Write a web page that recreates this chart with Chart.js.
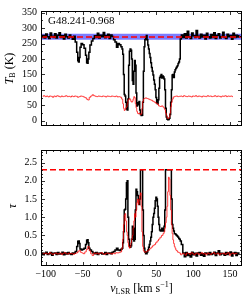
<!DOCTYPE html>
<html>
<head>
<meta charset="utf-8">
<script src="https://cdn.jsdelivr.net/npm/chart.js@4.4.0/dist/chart.umd.min.js"></script>
<style>
  html, body { margin: 0; padding: 0; background: #fff; }
  #wrap { position: relative; width: 250px; height: 303px; }
  canvas { position: absolute; left: 0; }
  #topChart { top: 0; }
  #bottomChart { top: 140px; }
</style>
</head>
<body>
<div id="wrap">
  <canvas id="topChart" width="250" height="140"></canvas>
  <canvas id="bottomChart" width="250" height="163"></canvas>
</div>
<script>
// source + axis ranges
const sourceName = 'G48.241-0.968';
const vRange = [-106.4, 166.3];
const vTicks = [-100, -50, 0, 50, 100, 150];
const tbRange = [-17.2, 355.5];
const tbTicks = [0, 50, 100, 150, 200, 250, 300, 350];
const tauRange = [-0.337, 2.845];
const tauTicks = [0, 0.5, 1, 1.5, 2, 2.5];

// continuum level, its uncertainty band and the tau saturation limit
const contLevel = 271;
const contBand = [262, 282];
const tauLimit = 2.3;

// black: on-source brightness temperature (K) and optical depth
const velBlack = [-105,-103,-101,-99,-97,-95,-93,-91,-89,-87,-85,-83,-81,-79,-77,-75,-73,-71,-69,-67,-65,-63,-61,
  -59,-57,-56,-55,-54,-53,-51,-49,-47,-45,-44,-43,-42,-41,-39,-37,-35,-33,
  -31,-29,-27,-25,-23,-21,-19,-17,-15,-13,-11,-9,
  -7,-5,-3,-1,1,3,
  4,5,6,7,8,9,10,11,12,13,14,15,16,17,18,19,20,21,22,23,24,25,26,27,28,29,30,31,32,33,34,35,36,37,38,39,40,41,42,43,
  44,45,46,47,48,49,50,51,52,53,54,55,56,57,58,59,60,61,62,63,64,65,66,67,68,69,70,71,72,73,74,75,76,77,78,79,80,81,82,
  83,85,87,89,91,93,95,97,99,101,103,105,107,109,111,113,115,117,119,121,123,125,127,129,131,133,135,137,139,141,143,145,147,149,151,153,155,157,159,161,163];
const tbBlack = [270,276,268,281,272,266,284,274,270,282,268,277,285,270,275,265,280,272,268,278,271,264,274,
  255,222,194,190,205,238,250,246,235,212,188,186,200,222,245,258,266,275,
  270,283,268,277,272,286,269,275,280,266,278,273,
  262,255,238,250,246,240,
  232,215,150,85,80,60,38,35,70,180,225,232,228,200,130,118,160,195,180,90,48,52,58,62,35,20,17,18,60,160,240,262,272,276,262,245,232,218,205,188,
  172,160,148,132,118,100,75,58,55,68,105,140,145,150,138,145,142,135,100,40,12,5,3,4,8,20,60,100,148,150,140,158,165,170,174,178,185,190,200,
  265,278,270,282,268,290,272,266,284,275,270,292,274,268,280,271,277,265,283,272,268,279,270,285,266,276,282,268,273,287,270,266,280,272,276,264,283,270,277,271,275];
const tauBlack = [0.02,-0.03,0.01,0.04,-0.02,0.0,0.03,-0.04,0.01,0.02,-0.02,0.03,-0.01,0.0,0.04,-0.03,0.02,-0.01,0.03,0.0,-0.02,0.02,0.01,
  0.06,0.2,0.34,0.35,0.28,0.13,0.1,0.12,0.15,0.25,0.37,0.38,0.3,0.15,0.1,0.06,0.02,0.0,
  0.03,-0.02,0.01,0.02,-0.01,0.0,0.03,-0.02,0.01,0.02,0.0,0.04,
  0.06,0.1,0.15,0.1,0.09,0.12,
  0.15,0.3,0.6,1.2,1.22,1.5,1.95,2.0,1.0,0.4,0.2,0.18,0.22,0.4,0.75,0.7,0.35,0.4,1.2,1.77,1.7,1.6,1.5,1.35,1.5,2.3,2.3,2.3,1.2,0.5,0.15,0.05,0.0,0.0,0.05,0.1,0.18,0.25,0.35,0.45,
  0.6,0.8,1.0,1.1,1.25,1.45,1.55,1.5,1.3,1.0,0.8,0.65,0.62,0.62,0.7,0.65,0.62,0.75,1.2,2.3,2.3,2.3,2.3,2.3,2.3,2.3,2.3,1.5,0.8,0.7,0.62,0.55,0.55,0.52,0.5,0.48,0.45,0.42,0.4,
  0.35,0.25,0.02,-0.08,0.03,-0.05,0.0,-0.09,0.04,-0.03,0.01,-0.06,0.02,0.03,-0.04,0.0,-0.07,0.02,0.01,-0.03,0.03,-0.02,0.0,0.04,-0.05,0.02,0.08,-0.03,0.01,0.0,-0.04,0.03,-0.02,0.02,0.05,-0.06,0.01,0.03,-0.05,0.02,0.01];

// red: comparison spectrum (K) and its optical depth
const velRedTb = [-104,-102,-100,-98,-96,-94,-92,-90,-88,-86,-84,-82,-80,-78,-76,-74,-72,-70,-68,-66,-64,-62,-60,-58,-56,-54,-52,
  -50,-48,-46,-44,-42,-40,-38,-36,-34,-32,-30,-28,-26,-24,-22,-20,-18,-16,-14,-12,-10,-8,-6,-4,-2,0,2,
  4,5,6,7,8,9,10,11,12,13,14,15,16,17,18,19,20,21,22,23,24,25,26,27,28,29,30,31,32,33,34,
  36,38,40,42,44,46,48,50,52,54,56,58,60,
  61,62,63,64,65,66,67,68,69,70,71,72,
  74,76,78,80,82,84,86,88,90,92,94,96,98,100,102,104,106,108,110,112,114,116,118,120,122,124,126,128,130,132,134,136,138,140,142,144,146,148,150,152,154];
const tbRed = [79,81,78,80,77,80,79,76,80,78,81,79,77,80,78,79,81,78,79,77,80,78,80,79,76,78,80,
  79,77,75,70,67,76,80,84,81,79,78,80,79,78,80,79,77,80,79,78,80,79,78,80,77,78,76,
  70,55,40,33,36,42,45,55,66,70,72,68,62,60,63,70,78,75,55,42,30,24,22,25,22,20,22,40,62,70,72,
  74,72,70,68,66,63,60,57,54,48,46,48,44,
  40,35,25,18,10,7,8,12,25,45,60,70,
  77,79,80,78,79,80,78,81,79,78,80,79,77,80,79,81,78,80,79,77,80,79,78,81,79,80,78,79,81,78,80,79,77,80,79,81,78,80,79,80,78];
const velRedTau = [-104,-102,-100,-98,-96,-94,-92,-90,-88,-86,-84,-82,-80,-78,-76,-74,-72,-70,-68,-66,-64,-62,-60,-58,-56,-54,-52,
  -50,-48,-46,-44,-42,-40,-38,-36,-34,-32,-30,-28,-26,-24,-22,-20,-18,-16,-14,-12,-10,-8,-6,-4,-2,0,2,
  4,5,6,7,8,9,10,11,12,13,14,15,16,17,18,19,20,21,22,23,24,25,26,27,28,29,30,31,32,33,34,35,36,
  38,40,42,44,46,48,50,52,54,56,58,60,
  61,62,63,64,65,66,67,68,69,70,71,72,73,74,75,76,77,78,
  80,82,84,86,88,90,92,94,96,98,100,102,104,106,108,110,112,114,116,118,120,122,124,126,128,130,132,134,136,138,140,142,144,146,148,150,152,154,156,158,160];
const tauRed = [0.01,-0.02,0.02,0.0,-0.01,0.03,0.0,-0.02,0.01,0.02,-0.01,0.0,0.02,-0.02,0.01,0.03,0.0,-0.01,0.02,0.0,0.01,-0.02,0.01,0.02,0.05,0.09,0.04,
  0.02,0.0,0.05,0.12,0.2,0.08,0.0,-0.05,0.02,0.0,0.02,-0.01,0.01,0.03,0.0,-0.02,0.01,0.02,0.0,0.01,-0.01,0.02,0.0,0.03,0.02,0.03,0.05,
  0.15,0.4,0.8,1.05,1.1,0.9,0.6,0.5,0.3,0.2,0.15,0.2,0.3,0.4,0.5,0.7,0.9,1.1,1.0,1.2,1.4,1.5,1.35,1.45,1.6,1.67,1.3,0.6,0.2,0.08,0.05,0.04,0.05,
  0.07,0.1,0.14,0.18,0.22,0.25,0.3,0.35,0.4,0.45,0.5,0.55,
  0.6,0.7,0.85,1.0,1.3,1.7,2.1,2.05,1.6,1.2,0.8,0.55,0.38,0.28,0.2,0.15,0.1,0.08,
  0.04,0.02,-0.03,0.01,0.0,-0.04,0.02,0.01,-0.02,0.03,0.0,-0.03,0.01,0.02,-0.02,0.0,0.03,-0.01,0.01,-0.03,0.02,0.0,-0.02,0.01,0.03,-0.01,0.0,0.02,-0.03,0.01,0.0,0.02,-0.02,0.01,0.03,-0.04,0.0,0.02,-0.01,0.01,0.0];

const serif = '"Liberation Serif", "DejaVu Serif", serif';
const tickFont = { family: serif, size: 10 };
const pts = (xs, ys) => xs.map((x, i) => ({ x: x, y: ys[i] }));
const minus = v => String(v).replace('-', '\u2212');

function richText(ctx, parts, cx, cy, rotate) {
  ctx.save();
  ctx.translate(cx, cy);
  if (rotate) ctx.rotate(-Math.PI / 2);
  let w = 0;
  parts.forEach(p => { ctx.font = p.f; p.w = ctx.measureText(p.t).width; w += p.w; });
  let x = -w / 2;
  ctx.textBaseline = 'middle';
  ctx.textAlign = 'left';
  ctx.fillStyle = '#000';
  parts.forEach(p => { ctx.font = p.f; ctx.fillText(p.t, x, p.dy || 0); x += p.w; });
  ctx.restore();
}

// box + inward ticks on all four sides, matplotlib style
function framePlugin(yMinorStep, extra) {
  return {
    id: 'frame',
    afterDraw(chart) {
      const ctx = chart.ctx, a = chart.chartArea;
      const xs = chart.scales.x, ys = chart.scales.y;
      ctx.save();
      ctx.strokeStyle = '#000';
      ctx.lineWidth = 1;
      ctx.strokeRect(Math.round(a.left) + 0.5, Math.round(a.top) + 0.5,
        Math.round(a.right - a.left) - 1, Math.round(a.bottom - a.top) - 1);
      ctx.lineWidth = 0.8;
      ctx.beginPath();
      for (let v = -100; v <= 160; v += 10) {
        const px = Math.round(xs.getPixelForValue(v)) + 0.5;
        const len = vTicks.includes(v) ? 4 : 2;
        ctx.moveTo(px, a.bottom); ctx.lineTo(px, a.bottom - len);
        ctx.moveTo(px, a.top); ctx.lineTo(px, a.top + len);
      }
      const yt = ys.ticks.map(t => t.value);
      const start = Math.ceil(ys.min / yMinorStep) * yMinorStep;
      for (let k = 0; start + k * yMinorStep <= ys.max; k++) {
        const v = +(start + k * yMinorStep).toFixed(6);
        const py = Math.round(ys.getPixelForValue(v)) + 0.5;
        const len = yt.some(t => Math.abs(t - v) < 1e-6) ? 4 : 2;
        ctx.moveTo(a.left, py); ctx.lineTo(a.left + len, py);
        ctx.moveTo(a.right, py); ctx.lineTo(a.right - len, py);
      }
      ctx.stroke();
      ctx.restore();
      extra(chart);
    }
  };
}

function xAxis(showLabels, height) {
  return {
    type: 'linear', min: vRange[0], max: vRange[1],
    grid: { display: false, drawTicks: false }, border: { display: false },
    ticks: { display: showLabels, padding: 2, font: tickFont, color: '#000', maxRotation: 0, autoSkip: false, callback: minus },
    afterBuildTicks: s => { s.ticks = vTicks.map(v => ({ value: v })); },
    afterFit: s => { s.height = height; }
  };
}
function yAxis(range, ticks, fmt) {
  return {
    min: range[0], max: range[1],
    grid: { display: false, drawTicks: false }, border: { display: false },
    ticks: { padding: 4, font: tickFont, color: '#000', autoSkip: false, callback: fmt },
    afterBuildTicks: s => { s.ticks = ticks.map(v => ({ value: v })); },
    afterFit: s => { s.width = 41; }
  };
}

const lineBase = { pointRadius: 0, stepped: 'middle', fill: false };

new Chart(document.getElementById('topChart'), {
  type: 'line',
  data: {
    datasets: [
      { data: pts(vRange, [contBand[1], contBand[1]]), borderWidth: 0, pointRadius: 0, fill: false, order: 10 },
      { data: pts(vRange, [contBand[0], contBand[0]]), borderWidth: 0, pointRadius: 0, fill: '-1',
        backgroundColor: 'rgba(70,70,255,0.7)', order: 9 },
      { ...lineBase, data: pts(velBlack, tbBlack), borderColor: '#000', borderWidth: 1.5, order: 3 },
      { ...lineBase, data: pts(velRedTb, tbRed), borderColor: 'rgba(255,0,0,0.85)', borderWidth: 0.9, order: 2 },
      { data: pts(vRange, [contLevel, contLevel]), borderColor: '#ff0000', borderWidth: 1.5, borderDash: [6, 3],
        pointRadius: 0, fill: false, order: 1 }
    ]
  },
  options: {
    responsive: false, animation: false, devicePixelRatio: 1,
    layout: { padding: { top: 11, right: 8, left: 0, bottom: 0 } },
    plugins: { legend: { display: false }, tooltip: { enabled: false } },
    scales: { x: xAxis(false, 14), y: yAxis(tbRange, tbTicks, v => String(v)) }
  },
  plugins: [framePlugin(25, chart => {
    const ctx = chart.ctx;
    ctx.save();
    ctx.fillStyle = '#000';
    ctx.font = '11px ' + serif;
    ctx.textBaseline = 'alphabetic';
    ctx.fillText(sourceName, 48, 24);
    ctx.restore();
    richText(ctx, [
      { t: 'T', f: 'italic 12px ' + serif },
      { t: 'B', f: '8px ' + serif, dy: 3 },
      { t: ' (K)', f: '12px ' + serif }
    ], 10, 68.5, true);
  })]
});

new Chart(document.getElementById('bottomChart'), {
  type: 'line',
  data: {
    datasets: [
      { ...lineBase, data: pts(velBlack, tauBlack), borderColor: '#000', borderWidth: 1.5, order: 3 },
      { ...lineBase, data: pts(velRedTau, tauRed), borderColor: 'rgba(255,0,0,0.85)', borderWidth: 0.9, order: 2 },
      { data: pts(vRange, [tauLimit, tauLimit]), borderColor: '#ff0000', borderWidth: 1.5, borderDash: [6, 3],
        pointRadius: 0, fill: false, order: 1 }
    ]
  },
  options: {
    responsive: false, animation: false, devicePixelRatio: 1,
    layout: { padding: { top: 6, right: 8, left: 0, bottom: 0 } },
    plugins: { legend: { display: false }, tooltip: { enabled: false } },
    scales: { x: xAxis(true, 37), y: yAxis(tauRange, tauTicks, v => v.toFixed(1)) }
  },
  plugins: [framePlugin(0.1, chart => {
    const ctx = chart.ctx;
    richText(ctx, [{ t: '\u03c4', f: 'italic 12px ' + serif }], 13, 66, true);
    richText(ctx, [
      { t: 'v', f: 'italic 12px ' + serif },
      { t: 'LSR', f: '8px ' + serif, dy: 3 },
      { t: ' [km s', f: '12px ' + serif },
      { t: '\u22121', f: '8px ' + serif, dy: -4 },
      { t: ']', f: '12px ' + serif }
    ], 141.5, 149, false);
  })]
});
</script>
</body>
</html>
